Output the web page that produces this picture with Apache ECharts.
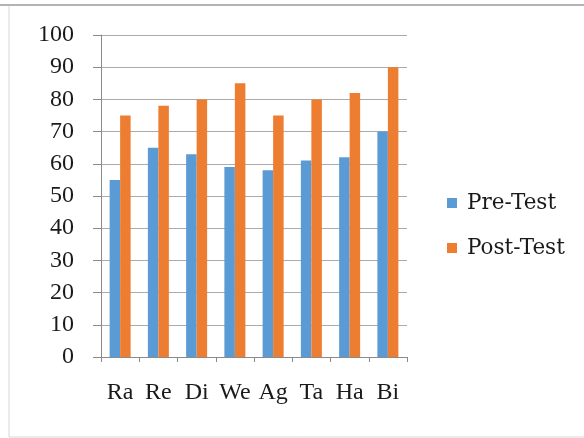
<!DOCTYPE html>
<html>
<head>
<meta charset="utf-8">
<script src="https://cdn.jsdelivr.net/npm/echarts@6/dist/echarts.min.js"></script>
<style>
  html, body { margin: 0; padding: 0; background: #fff; }
  #chart { width: 584px; height: 438px; }
</style>
</head>
<body>
<div id="chart"></div>
<script>
const categories = ['Ra', 'Re', 'Di', 'We', 'Ag', 'Ta', 'Ha', 'Bi'];
const preTest = [55, 65, 63, 59, 58, 61, 62, 70];
const postTest = [75, 78, 80, 85, 75, 80, 82, 90];
const yTicks = { min: 0, max: 100, step: 10 };

const axisFont = '"Liberation Serif", "DejaVu Serif", serif';
const legendFont = '"DejaVu Serif", "Liberation Serif", serif';
const chart = echarts.init(document.getElementById('chart'));

chart.setOption({
  animation: false,
  backgroundColor: '#fff',
  grid: { left: 101, right: 177, top: 35, bottom: 81 },
  graphic: [
    { type: 'line', shape: { x1: 0, y1: 5, x2: 584, y2: 5 }, style: { stroke: '#b4b4b4', lineWidth: 2 } },
    { type: 'line', shape: { x1: 9, y1: 6, x2: 9, y2: 437 }, style: { stroke: '#d6d6d6', lineWidth: 1 } },
    { type: 'line', shape: { x1: 9, y1: 437, x2: 584, y2: 437 }, style: { stroke: '#d6d6d6', lineWidth: 1 } }
  ],
  legend: {
    orient: 'vertical',
    left: 447,
    top: 192,
    padding: 0,
    itemWidth: 10,
    itemHeight: 10,
    itemGap: 23,
    icon: 'rect',
    textStyle: { fontFamily: legendFont, fontSize: 21.5, color: '#1a1a1a', padding: [0, 0, 0, 5] },
    data: ['Pre-Test', 'Post-Test']
  },
  xAxis: {
    type: 'category',
    data: categories,
    axisLine: { lineStyle: { color: '#8a8a8a' } },
    axisTick: { show: true, length: 5, alignWithLabel: false, lineStyle: { color: '#8a8a8a' } },
    axisLabel: { interval: 0, margin: 24, fontFamily: axisFont, fontSize: 24, color: '#1a1a1a' }
  },
  yAxis: {
    type: 'value',
    min: yTicks.min,
    max: yTicks.max,
    interval: yTicks.step,
    axisLine: { show: true, lineStyle: { color: '#8a8a8a' } },
    axisTick: { show: true, length: 8, lineStyle: { color: '#8a8a8a' } },
    axisLabel: { margin: 27, fontFamily: axisFont, fontSize: 24, color: '#1a1a1a' },
    splitLine: { lineStyle: { color: '#ababab' } }
  },
  series: [
    {
      name: 'Pre-Test',
      type: 'bar',
      data: preTest,
      barWidth: 10.5,
      barGap: 0,
      itemStyle: { color: '#5b9bd5' }
    },
    {
      name: 'Post-Test',
      type: 'bar',
      data: postTest,
      barWidth: 10.5,
      barGap: 0,
      itemStyle: { color: '#ed7d31' }
    }
  ]
});
</script>
</body>
</html>
